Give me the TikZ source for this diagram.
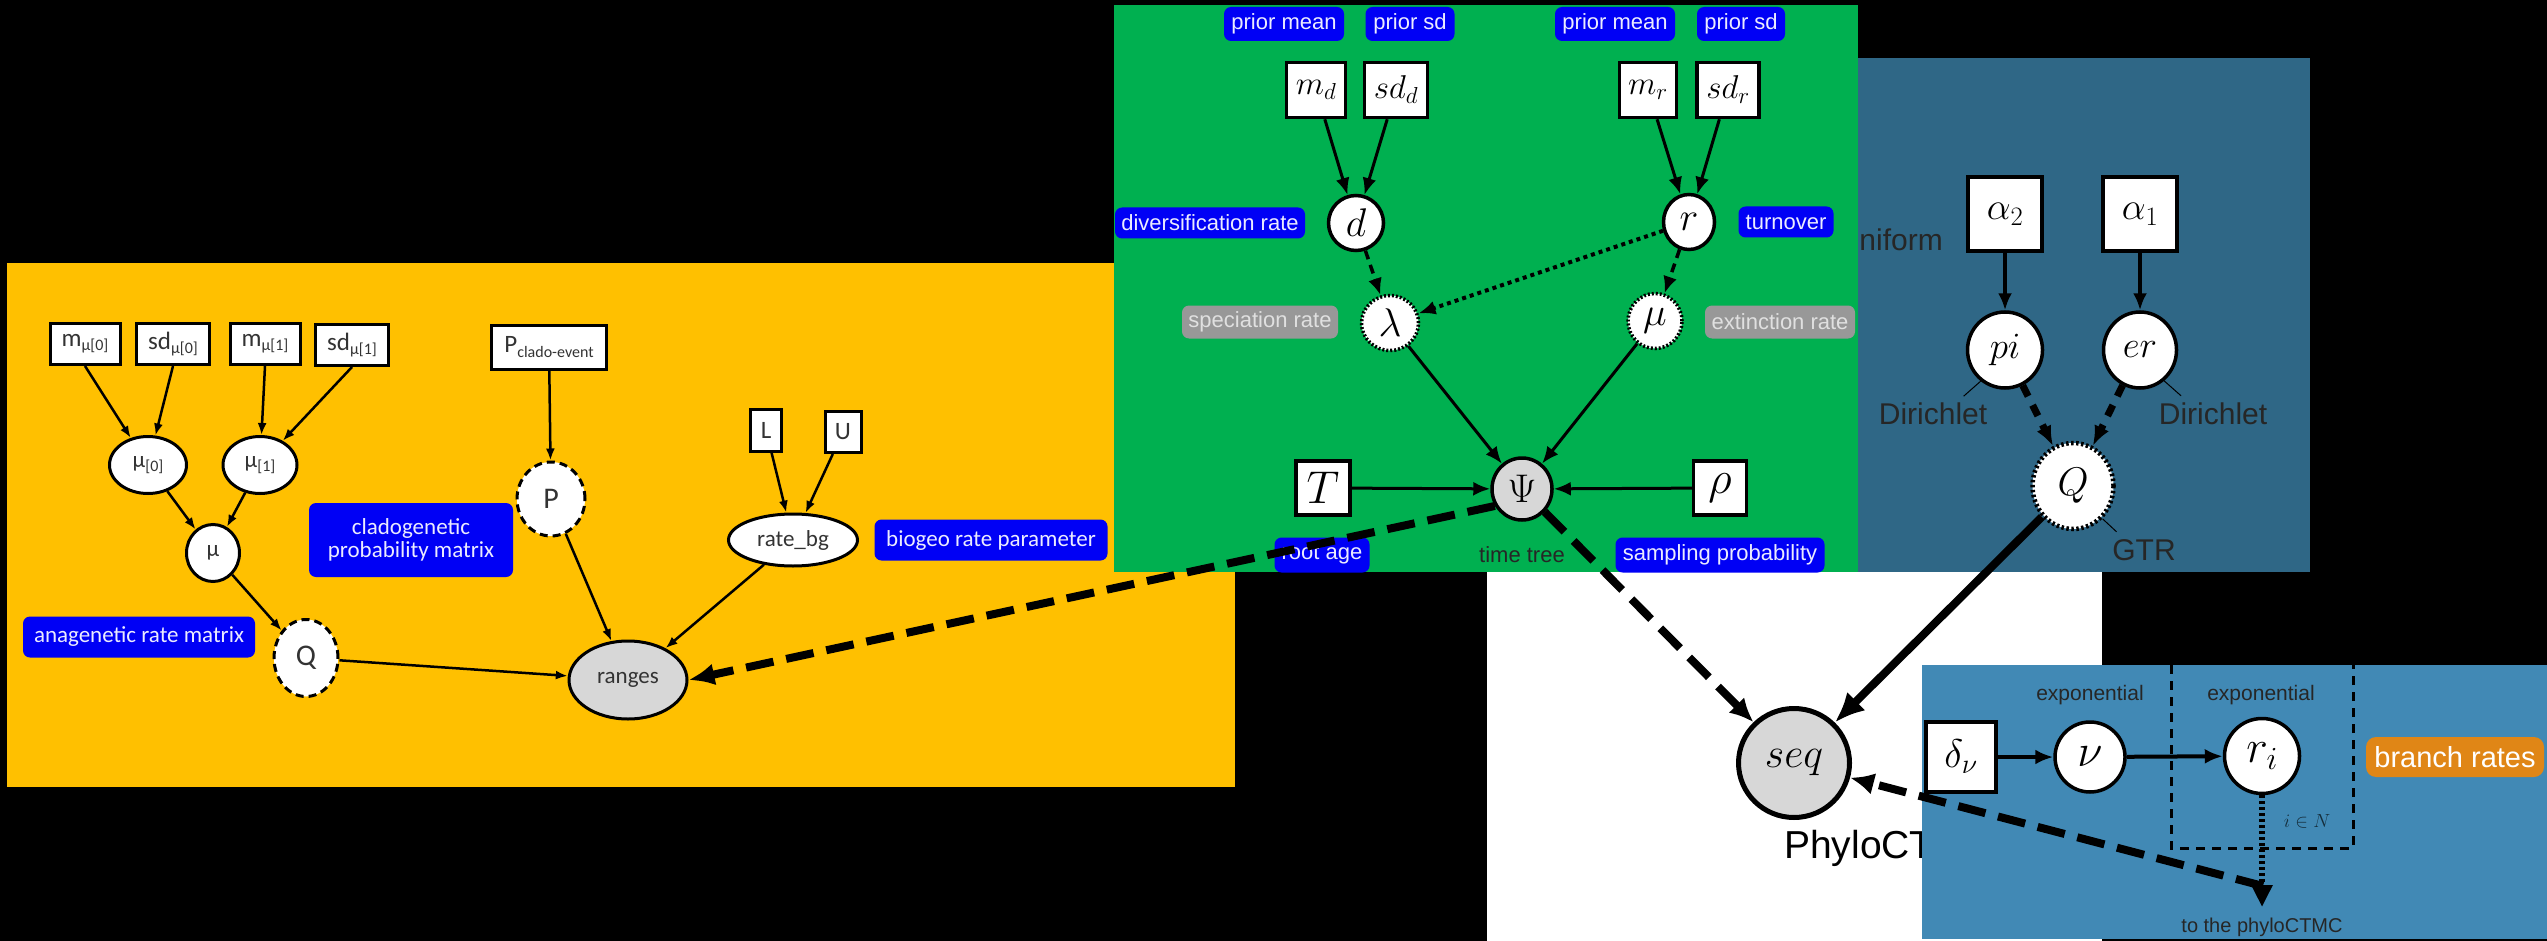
\RequirePackage{fix-cm}
\documentclass[tikz,border=0pt]{standalone}
\usepackage[no-math]{fontspec}
\setmainfont{Liberation Sans}
\newfontfamily\carl{Carlito}
\usetikzlibrary{shapes.geometric,arrows.meta}
\definecolor{yel}{RGB}{255,192,0}
\definecolor{grn}{RGB}{0,176,80}
\definecolor{tealp}{RGB}{47,103,134}
\definecolor{bpan}{RGB}{65,137,181}
\definecolor{lblue}{RGB}{0,0,245}
\definecolor{lgray}{RGB}{152,152,152}
\definecolor{orng}{RGB}{224,134,22}
\definecolor{ngray}{RGB}{215,215,215}
\newcommand{\fsz}[1]{\fontsize{#1}{#1}\selectfont}
\newcommand{\ysub}[1]{\raisebox{-0.35ex}{\fsz{16}#1}}
\tikzset{
  ybox/.style={draw=black, line width=3pt, fill=white, rectangle, inner sep=0pt, text=black!80, font=\carl\fsz{25}},
  yell/.style={draw=black, line width=3pt, fill=white, ellipse, inner sep=0pt, text=black!80, font=\carl\fsz{23}},
  ydash/.style={yell, dash pattern=on 8pt off 5pt, font=\carl\fsz{30}},
  blab/.style={fill=lblue, rounded corners=7pt, text=white!92!blue, inner sep=0pt},
  ylab/.style={blab, font=\carl\fsz{23}},
  glab/.style={blab, font=\fsz{22}},
  graylab/.style={fill=lgray, rounded corners=7pt, text=white!88!black, inner sep=0pt, font=\fsz{22}},
  gbox/.style={draw=black, line width=3.5pt, fill=white, rectangle, inner sep=0pt, font=\fsz{33}},
  gcirc/.style={draw=black, line width=3.5pt, fill=white, ellipse, inner sep=0pt, font=\fsz{40}},
  gdot/.style={gcirc, dash pattern=on 2pt off 2pt},
  obs/.style={gcirc, fill=ngray},
  plain/.style={inner sep=0pt, text=black!85},
  yarr/.style={-{Latex[length=12pt,width=9pt]}, line width=2.5pt},
  garr/.style={-{Latex[length=17pt,width=14pt]}, line width=3pt},
  gdash/.style={garr, dash pattern=on 9pt off 6pt, line width=3.5pt},
  gdotted/.style={garr, dash pattern=on 4pt off 4pt, line width=4pt},
  tdash/.style={-{Latex[length=20pt,width=16pt]}, line width=7pt, dash pattern=on 12pt off 10pt},
  bigdash/.style={-{Latex[length=26pt,width=22pt]}, line width=8pt, dash pattern=on 28pt off 13pt},
  bigsolid/.style={-{Latex[length=30pt,width=26pt]}, line width=8pt},
  leader/.style={line width=1pt},
  platebox/.style={line width=3pt, dash pattern=on 9pt off 7pt},
}
\begin{document}
\begin{tikzpicture}[x=1pt,y=-1pt]
\useasboundingbox (0,0) rectangle (2547,941);
\fill[black] (0,0) rectangle (2547,941);
% white panel
\fill[white] (1487,572) rectangle (2102,941);
% ---------------- yellow panel
\fill[yel] (7,263) rectangle (1235,787);
\node[ybox, minimum width=70pt, minimum height=41pt] (m0) at (85,344) {m\ysub{μ[0]}};
\node[ybox, minimum width=73pt, minimum height=41pt] (s0) at (173,344) {sd\ysub{μ[0]}};
\node[ybox, minimum width=70pt, minimum height=41pt] (m1) at (265,344) {m\ysub{μ[1]}};
\node[ybox, minimum width=73pt, minimum height=41pt] (s1) at (352,345) {sd\ysub{μ[1]}};
\node[ybox, minimum width=115pt, minimum height=44pt] (pce) at (549,347) {P\ysub{clado-event}};
\node[yell, minimum width=77pt, minimum height=57pt] (mu0) at (148,465) {μ\ysub{[0]}};
\node[yell, minimum width=74pt, minimum height=57pt] (mu1) at (260,465) {μ\ysub{[1]}};
\node[yell, minimum width=53pt, minimum height=57pt] (mu) at (213,553) {μ};
\node[ydash, minimum width=64pt, minimum height=77pt] (Qy) at (306,658) {Q};
\node[ydash, minimum width=68pt, minimum height=74pt] (P) at (551,499) {P};
\node[yell, fill=ngray, minimum width=118pt, minimum height=78pt] (ranges) at (628,680) {ranges};
\node[ybox, minimum width=31pt, minimum height=42pt] (L) at (766,430) {L};
\node[ybox, minimum width=36pt, minimum height=41pt] (U) at (843,432) {U};
\node[yell, minimum width=129pt, minimum height=52pt] (rbg) at (793,540) {rate\_bg};
\node[ylab, minimum width=204pt, minimum height=74pt, align=center] (clado) at (411,540) {\fontsize{23}{27}\selectfont cladogenetic\\probability matrix};
\node[ylab, minimum width=232pt, minimum height=41pt] (ana) at (139,637) {anagenetic rate matrix};
\node[ylab, minimum width=233pt, minimum height=41pt] (bio) at (991,540) {biogeo rate parameter};
\draw[yarr] (m0.south) -- (mu0);
\draw[yarr] (s0.south) -- (mu0);
\draw[yarr] (m1.south) -- (mu1);
\draw[yarr] (s1.south) -- (mu1);
\draw[yarr] (mu0) -- (mu);
\draw[yarr] (mu1) -- (mu);
\draw[yarr] (mu) -- (Qy);
\draw[yarr] (Qy) -- (ranges);
\draw[yarr] (pce) -- (P);
\draw[yarr] (P) -- (ranges);
\draw[yarr] (L) -- (rbg);
\draw[yarr] (U) -- (rbg);
\draw[yarr] (rbg) -- (ranges);
% ---------------- teal panel
\fill[tealp] (1750,58) rectangle (2310,572);
\node[plain, anchor=base east, font=\fsz{30}] (unif) at (1943,251) {Uniform};
\node[gbox, minimum width=74pt, minimum height=74pt, font=\fsz{38}] (a2) at (2005,214) {$\alpha_2$};
\node[gbox, minimum width=74pt, minimum height=74pt, font=\fsz{38}] (a1) at (2140,214) {$\alpha_1$};
\node[gcirc, minimum width=75pt, minimum height=76pt, font=\fsz{37}] (pi) at (2005,350) {$pi$};
\node[gcirc, minimum width=73pt, minimum height=76pt, font=\fsz{37}] (er) at (2140,350) {$er$};
\node[gcirc, line width=4.5pt, dash pattern=on 2.5pt off 2.5pt, minimum width=81pt, minimum height=86pt] (Qt) at (2073,486) {$Q$};
\node[plain, font=\fsz{30}] (dirL) at (1933,414) {Dirichlet};
\node[plain, font=\fsz{30}] (dirR) at (2213,414) {Dirichlet};
\node[plain, font=\fsz{30}] (gtr) at (2144,550) {GTR};
\draw[leader] (pi.-128) -- ++(-17,15);
\draw[leader] (er.-52) -- ++(17,15);
\draw[leader] (Qt.-48) -- ++(14,13);
\draw[garr, line width=4pt] (a2) -- (pi);
\draw[garr, line width=4pt] (a1) -- (er);
\draw[tdash] (pi) -- (Qt);
\draw[tdash] (er) -- (Qt);
% ---------------- green panel
\fill[grn] (1114,5) rectangle (1858,572);
\node[glab, minimum width=120pt, minimum height=34pt] (pm1) at (1284,24) {prior mean};
\node[glab, minimum width=89pt, minimum height=34pt] (ps1) at (1410,24) {prior sd};
\node[glab, minimum width=120pt, minimum height=34pt] (pm2) at (1615,24) {prior mean};
\node[glab, minimum width=88pt, minimum height=34pt] (ps2) at (1741,24) {prior sd};
\node[gbox, minimum width=59pt, minimum height=55pt] (md) at (1316,90) {$m_d$};
\node[gbox, minimum width=63pt, minimum height=55pt] (sdd) at (1396,90) {$sd_d$};
\node[gbox, minimum width=57pt, minimum height=55pt] (mr) at (1648,90) {$m_r$};
\node[gbox, minimum width=62pt, minimum height=55pt] (sdr) at (1728,90) {$sd_r$};
\node[gcirc, minimum width=55pt, minimum height=55pt] (d) at (1356,223) {$d$};
\node[gcirc, minimum width=51pt, minimum height=55pt] (r) at (1689,222) {$r$};
\node[glab, minimum width=190pt, minimum height=31pt] (divl) at (1210,223) {diversification rate};
\node[glab, minimum width=95pt, minimum height=31pt] (turn) at (1786,222) {turnover};
\node[gdot, minimum width=57pt, minimum height=55pt] (lam) at (1390,323) {$\lambda$};
\node[gdot, minimum width=54pt, minimum height=55pt] (mug) at (1655,321) {$\mu$};
\node[graylab, minimum width=156pt, minimum height=33pt] (spec) at (1260,322) {speciation rate};
\node[graylab, minimum width=150pt, minimum height=33pt] (ext) at (1780,322) {extinction rate};
\node[obs, minimum width=60pt, minimum height=62pt] (psi) at (1522,489) {$\Psi$};
\node[gbox, minimum width=54pt, minimum height=54pt, font=\fsz{46}] (T) at (1323,488) {$T$};
\node[gbox, minimum width=53pt, minimum height=54pt, font=\fsz{46}] (rho) at (1720,488) {$\rho$};
\node[glab, minimum width=95pt, minimum height=35pt] (root) at (1322,555) {root age};
\node[plain, font=\fsz{22}] (tt) at (1522,555) {time tree};
\node[glab, minimum width=209pt, minimum height=35pt] (samp) at (1720,555) {sampling probability};
\draw[garr] (md) -- (d);
\draw[garr] (sdd) -- (d);
\draw[garr] (mr) -- (r);
\draw[garr] (sdr) -- (r);
\draw[gdash] (d) -- (lam);
\draw[gdotted] (r) -- (lam);
\draw[gdash] (r) -- (mug);
\draw[garr] (lam) -- (psi);
\draw[garr] (mug) -- (psi);
\draw[garr] (T) -- (psi);
\draw[garr] (rho) -- (psi);
% ---------------- phyloCTMC
\node[obs, line width=5pt, minimum width=111pt, minimum height=109pt, font=\fsz{42}] (seq) at (1794,763) {$seq$};
\node[plain, anchor=west, font=\fsz{39}, text=black] (ctmc) at (1784,848) {PhyloCTMC};
% ---------------- branch-rate panel
\fill[bpan] (1922,665) rectangle (2547,939);
\node[gbox, minimum width=70pt, minimum height=70pt, font=\fsz{40}] (dnu) at (1961,757) {$\delta_\nu$};
\node[gcirc, minimum width=70pt, minimum height=70pt, font=\fsz{46}] (nu) at (2090,757) {$\nu$};
\node[gcirc, minimum width=75pt, minimum height=75pt, font=\fsz{46}] (ri) at (2262,756) {$r_i$};
\node[plain, font=\fsz{21}] (ex1) at (2090,695) {exponential};
\node[plain, font=\fsz{21}] (ex2) at (2261,695) {exponential};
\draw[platebox] (2171,665) -- (2171,848) -- (2353,848) -- (2353,665);
\node[plain, text=black!55!tealp, font=\fsz{19}] (iN) at (2307,821) {$i \in N$};
\node[fill=orng, rounded corners=10pt, text=white, inner sep=0pt, minimum width=178pt, minimum height=40pt, font=\fsz{29}] (br) at (2455,757) {branch rates};
\node[plain, font=\fsz{20}] (toc) at (2262,927) {to the phyloCTMC};
\coordinate (tip) at (2262,907);
\coordinate (dstart) at (2263,886);
\draw[garr, line width=4pt, -{Latex[length=18pt,width=15pt]}] (dnu) -- (nu);
\draw[garr, line width=4pt, -{Latex[length=18pt,width=15pt]}] (nu) -- (ri);
\draw[line width=6pt, dash pattern=on 3pt off 3pt, -{Triangle[length=22pt,width=20pt]}] (ri) -- (tip);
% ---------------- long connectors
\draw[bigdash] (psi.-148) -- (ranges.east);
\draw[bigdash, -{Latex[length=24pt,width=22pt]}] (psi) -- (seq);
\draw[bigsolid] (Qt) -- (seq);
\draw[bigdash, -{Latex[length=24pt,width=22pt]}] (dstart) -- (seq);
\end{tikzpicture}
\end{document}
